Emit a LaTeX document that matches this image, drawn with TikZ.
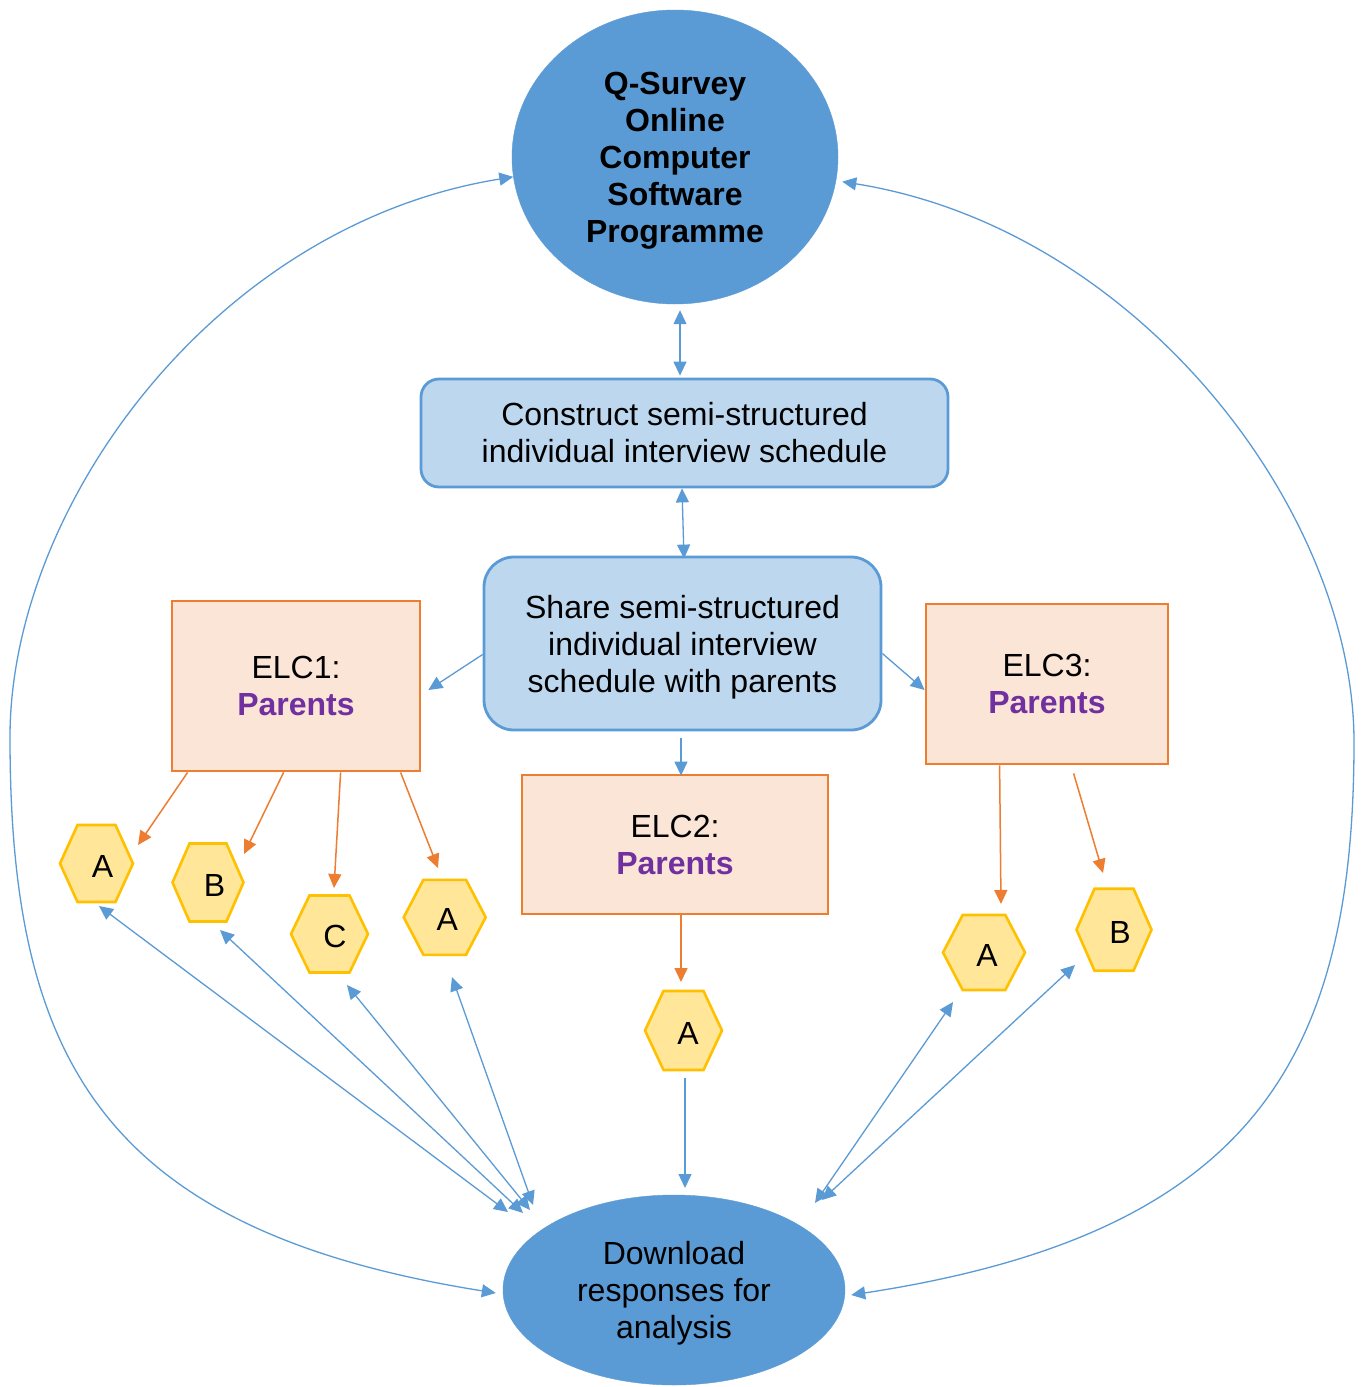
\documentclass[tikz,border=0pt]{standalone}
\usepackage{fontspec}
\setmainfont{Liberation Sans}
\usetikzlibrary{arrows.meta,calc,shapes.geometric}

\definecolor{flowblue}{HTML}{5B9BD5}
\definecolor{paleblue}{HTML}{BDD7EE}
\definecolor{floworange}{HTML}{ED7D31}
\definecolor{paleorange}{HTML}{FBE5D6}
\definecolor{hexgold}{HTML}{FFC000}
\definecolor{palegold}{HTML}{FFE699}
\definecolor{parentpurple}{HTML}{7030A0}

\newcommand\diagfont{\fontsize{32}{37}\selectfont}
% strut that balances the descenders of a last line
\newcommand\topstrut{\rule{0pt}{30pt}}

% hexagon: name, centre x, centre y, width, height, letter offset, letter
\newcommand\hexagonnode[7]{%
  \filldraw[hexshape] ({#2-#4/2},#3) -- ({#2-#4/2+0.24*#4},{#3-#5/2})
    -- ({#2+#4/2-0.24*#4},{#3-#5/2}) -- ({#2+#4/2},#3)
    -- ({#2+#4/2-0.24*#4},{#3+#5/2}) -- ({#2-#4/2+0.24*#4},{#3+#5/2}) -- cycle;
  \node[hextext,minimum width=#4,minimum height=#5] (#1) at (#2,#3)
    {\hspace*{#6pt}\raisebox{-2.5pt}[\height][\depth]{#7}};
}

\begin{document}
\begin{tikzpicture}[x=1pt,y=-1pt,
  >={Triangle[length=14pt,width=13pt]},
  bigoval/.style={ellipse, fill=flowblue, draw=flowblue, align=center, inner sep=0pt},
  bluebox/.style={rectangle, draw=flowblue, line width=2.8pt, fill=paleblue,
    align=center, font=\diagfont, inner sep=0pt},
  elcbox/.style={rectangle, draw=floworange, line width=2.8pt, fill=paleorange,
    align=center, font=\diagfont, inner sep=0pt},
  hexshape/.style={draw=hexgold, line width=2.6pt, fill=palegold},
  hextext/.style={rectangle, inner sep=0pt, font=\diagfont},
  barrow/.style={draw=flowblue, line width=1.3pt},
  oarrow/.style={draw=floworange, line width=1.5pt, ->}]

\fill[white] (0,0) rectangle (1362,1387);
\useasboundingbox (0,0) rectangle (1362,1387);

% main nodes
\node[bigoval, minimum width=326, minimum height=294, font=\diagfont\bfseries] (q) at (675,157)
  {\topstrut Q-Survey\\Online\\Computer\\Software\\Programme};
\node[bluebox, rounded corners=18pt, minimum width=527, minimum height=108] (con) at (684.5,433)
  {Construct semi-structured\\individual interview schedule};
\node[bluebox, rounded corners=30pt, minimum width=397, minimum height=173] (share) at (682.5,643.5)
  {\topstrut Share semi-structured\\individual interview\\schedule with parents};
\node[elcbox, minimum width=248, minimum height=170] (elc1) at (296,686)
  {ELC1:\\{\color{parentpurple}\bfseries Parents}};
\node[elcbox, minimum width=306, minimum height=139] (elc2) at (675,844.5)
  {ELC2:\\{\color{parentpurple}\bfseries Parents}};
\node[elcbox, minimum width=242, minimum height=160] (elc3) at (1047,684)
  {ELC3:\\{\color{parentpurple}\bfseries Parents}};
\node[bigoval, minimum width=342, minimum height=190, font=\diagfont] (dl) at (674,1290)
  {\topstrut Download\\responses for\\analysis};

% parent groups
\hexagonnode{ha1}{96.5}{863.5}{73}{77}{12}{A}
\hexagonnode{hb1}{208}{882.5}{71}{78}{13}{B}
\hexagonnode{hc1}{329.5}{934}{77}{77}{11}{C}
\hexagonnode{ha2}{444.7}{917.3}{82}{75}{5}{A}
\hexagonnode{ha0}{683.5}{1030.5}{77}{79}{9}{A}
\hexagonnode{ha3}{984}{952.5}{82}{75}{6}{A}
\hexagonnode{hb3}{1114}{929.7}{75}{82}{12}{B}

% flow between the stages
\draw[barrow,<->] ([xshift=5pt,yshift=-6pt]q.south) -- ([xshift=-4.5pt,yshift=2pt]con.north);
\draw[barrow,<->] ([xshift=-2.5pt]con.south) -- ([xshift=1.5pt,yshift=-3pt]share.north);
\draw[barrow,->] ([yshift=-11pt]share.west) -- ([xshift=7pt,yshift=-4pt]elc1.east);
\draw[barrow,->] ([yshift=-10pt]share.east) -- ([yshift=-6pt]elc3.west);
\draw[barrow,->] ([xshift=-1.5pt,yshift=-7pt]share.south) -- ([xshift=6pt,yshift=-2pt]elc2.north);

% centres to parents
\draw[oarrow] ($(elc1.south west)+(17,0)$) -- ($(ha1)+(41.5,-18.5)$);
\draw[oarrow] ($(elc1.south west)+(113,0)$) -- ($(hb1)+(36,-28.5)$);
\draw[oarrow] ($(elc1.south west)+(170,0)$) -- ($(hc1)+(4.5,-46)$);
\draw[oarrow] ($(elc1.south west)+(230,0)$) -- ($(ha2)+(-6.7,-49.3)$);
\draw[oarrow] ([xshift=6pt]elc2.south) -- ($(ha0)+(-2.5,-48.5)$);
\draw[oarrow] ($(elc3.south west)+(75,0)$) -- ($(ha3)+(17,-48.5)$);
\draw[oarrow] ($(elc3.south west)+(149,8)$) -- ($(hb3)+(-11,-56.7)$);

% parents to responses
\draw[barrow,<->] ($(ha1)+(2.5,42.5)$) -- ($(dl)+(-166,-78)$);
\draw[barrow,<->] ($(hb1)+(12,47.5)$) -- ($(dl)+(-151,-77)$);
\draw[barrow,<->] ($(hc1)+(17.5,51)$) -- ($(dl)+(-144,-80)$);
\draw[barrow,<->] ($(ha2)+(7.3,59.7)$) -- ($(dl)+(-141,-85)$);
\draw[barrow,->] ($(ha0)+(1.5,47.5)$) -- ($(dl)+(11,-102)$);
\draw[barrow,<->] ($(ha3)+(-31,49.5)$) -- ($(dl)+(141,-87)$);
\draw[barrow,<->] ($(hb3)+(-39,35.3)$) -- ($(dl)+(148,-90)$);

% outer loops between software and responses
\draw[barrow,<->] (q.187) .. controls (214,225) and (10,507) .. (10,737)
  .. controls (10,1057) and (100,1230) .. ([xshift=-7pt,yshift=-3pt]dl.west);
\draw[barrow,<->] ([xshift=6pt,yshift=-2pt]q.352) .. controls (1139,229) and (1354,512) .. (1354,742)
  .. controls (1354,1062) and (1250,1234) .. ([xshift=6pt,yshift=-5pt]dl.east);

\end{tikzpicture}
\end{document}
